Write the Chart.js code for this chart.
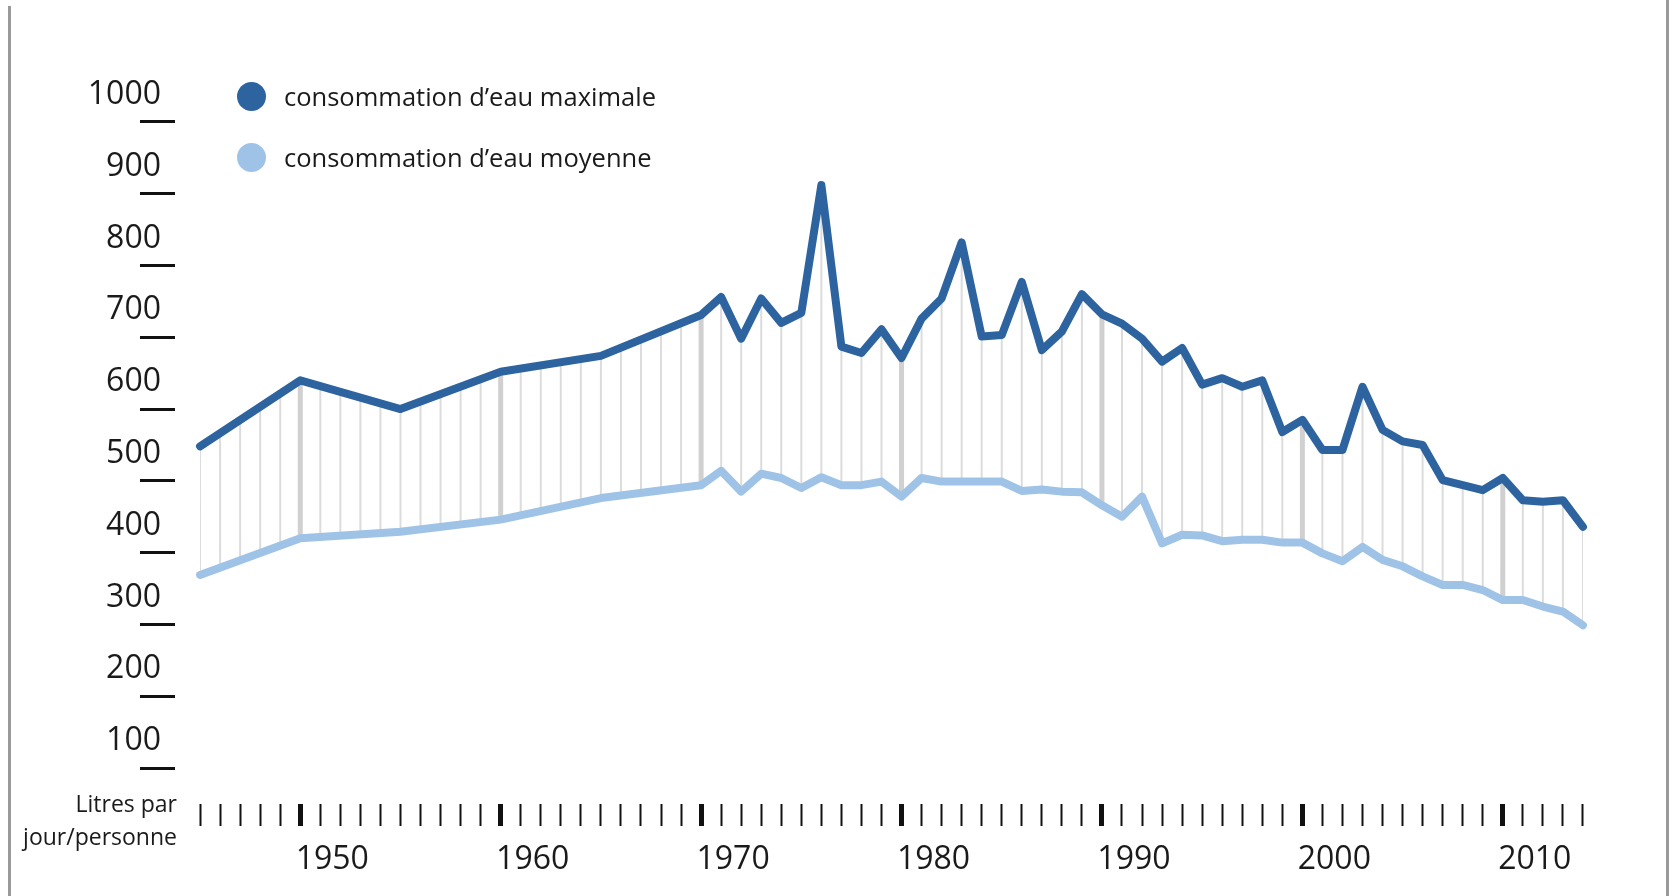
<!DOCTYPE html>
<html lang="fr">
<head>
<meta charset="utf-8">
<title>Consommation d'eau</title>
<script src="https://cdn.jsdelivr.net/npm/chart.js@4/dist/chart.umd.min.js"></script>
<style>
    html, body { margin: 0; padding: 0; background: #fff; }
    #wrap { position: relative; width: 1676px; height: 896px; overflow: hidden; font-family: 'Open Sans', sans-serif; color: #1a1a1a; }
    #chart { position: absolute; left: 0; top: 0; }
    .frame { position: absolute; width: 3px; background: #9a9a9a; }
    #legend { position: absolute; left: 237px; top: 81px; }
    .legend-item { display: flex; align-items: center; height: 30px; margin-bottom: 31px; font-size: 25.5px; white-space: nowrap; }
    .legend-dot { width: 29px; height: 29px; border-radius: 50%; margin-right: 18px; }
    #unit { position: absolute; right: calc(1676px - 177px); top: 787px; text-align: right; font-size: 23px; line-height: 33px; }
</style>
</head>
<body>
<div id="wrap">
    <div class="frame" style="left: 8px; top: 6px; bottom: 0;"></div>
    <div class="frame" style="left: 1666px; top: 0; bottom: 0;"></div>
    <canvas id="chart" width="1676" height="896"></canvas>
    <div id="legend"></div>
    <div id="unit">Litres par<br>jour/personne</div>
</div>
<script>
// years with a value (5-year steps first, then yearly)
const dataYears = [1945, 1950, 1955, 1960, 1965,
    1970, 1971, 1972, 1973, 1974, 1975, 1976, 1977, 1978, 1979,
    1980, 1981, 1982, 1983, 1984, 1985, 1986, 1987, 1988, 1989,
    1990, 1991, 1992, 1993, 1994, 1995, 1996, 1997, 1998, 1999,
    2000, 2001, 2002, 2003, 2004, 2005, 2006, 2007, 2008, 2009,
    2010, 2011, 2012, 2013, 2014];

const maxValues = [548, 640, 600, 652, 674,
    731, 756, 698, 754, 720, 734, 912, 687, 678, 711,
    671, 726, 754, 832, 701, 703, 777, 682, 708, 760,
    732, 719, 698, 666, 685, 634, 643, 631, 640, 568,
    585, 543, 543, 631, 571, 555, 550, 501, 494, 487,
    504, 473, 471, 473, 436];

const avgValues = [369, 420, 429, 446, 476,
    494, 514, 485, 510, 504, 490, 505, 494, 494, 499,
    478, 504, 499, 499, 499, 499, 486, 488, 485, 484,
    466, 450, 478, 413, 425, 424, 416, 418, 418, 414,
    414, 399, 388, 408, 390, 381, 367, 355, 355, 348,
    334, 334, 325, 318, 299];

const seriesLabels = ["consommation d\u2019eau maximale", "consommation d\u2019eau moyenne"];
const seriesColors = ['#2d64a0', '#9fc3e6'];

// one tick per year on the axis, labels every ten years
const tickYears = Array.from({ length: 70 }, (_, i) => 1945 + i);
const yTickValues = [100, 200, 300, 400, 500, 600, 700, 800, 900, 1000];

Chart.defaults.font.family = "'Open Sans', sans-serif";
Chart.defaults.color = '#1a1a1a';

// gray vertical strokes between the two curves, one per year
const hatchPlugin = {
    id: 'hatch',
    beforeDatasetsDraw(chart) {
        const { ctx, chartArea, scales: { x } } = chart;
        const upper = chart.getDatasetMeta(0).data;
        const lower = chart.getDatasetMeta(1).data;
        ctx.save();
        ctx.beginPath();
        upper.forEach((p, i) => i ? ctx.lineTo(p.x, p.y) : ctx.moveTo(p.x, p.y));
        for (let i = lower.length - 1; i >= 0; i--) ctx.lineTo(lower[i].x, lower[i].y);
        ctx.closePath();
        ctx.clip();
        tickYears.forEach(yr => {
            const px = x.getPixelForValue(yr);
            const decade = yr % 10 === 0;
            ctx.beginPath();
            ctx.lineWidth = decade ? 5 : 2;
            ctx.strokeStyle = decade ? '#d0d0d0' : '#dcdcdc';
            ctx.moveTo(px, chartArea.top);
            ctx.lineTo(px, chartArea.bottom);
            ctx.stroke();
        });
        ctx.restore();
    }
};

const chart = new Chart(document.getElementById('chart'), {
    type: 'line',
    data: {
        datasets: [maxValues, avgValues].map((vals, i) => ({
            label: seriesLabels[i],
            data: dataYears.map((yr, j) => ({ x: yr, y: vals[j] })),
            borderColor: seriesColors[i],
            backgroundColor: seriesColors[i],
            borderWidth: 8,
            borderCapStyle: 'round',
            borderJoinStyle: 'round',
            pointRadius: 0,
            tension: 0
        }))
    },
    options: {
        responsive: false,
        animation: false,
        events: [],
        layout: { padding: { top: 50, right: 73, left: 0, bottom: 0 } },
        plugins: { legend: { display: false }, tooltip: { enabled: false } },
        scales: {
            x: {
                type: 'linear',
                min: 1943.75,
                max: 2015,
                afterBuildTicks: s => { s.ticks = tickYears.map(v => ({ value: v })); },
                afterFit: s => { s.height = 92; },
                border: { display: false },
                grid: {
                    drawOnChartArea: false,
                    drawTicks: true,
                    tickLength: 22,
                    tickWidth: c => (c.tick && c.tick.value % 10 === 0) ? 5 : 2,
                    tickColor: '#111'
                },
                ticks: {
                    autoSkip: false,
                    maxRotation: 0,
                    minRotation: 0,
                    labelOffset: 32,
                    padding: 15,
                    font: { size: 32 },
                    callback: v => v % 10 === 0 ? String(v) : ''
                }
            },
            y: {
                min: 50,
                max: 1100,
                afterBuildTicks: s => { s.ticks = yTickValues.map(v => ({ value: v })); },
                afterFit: s => { s.width = 175; },
                border: { display: false },
                grid: {
                    drawOnChartArea: false,
                    drawTicks: true,
                    tickLength: 35,
                    tickWidth: 3,
                    tickColor: '#111'
                },
                ticks: {
                    padding: -21,
                    labelOffset: -27,
                    font: { size: 32 },
                    callback: v => String(v)
                }
            }
        }
    },
    plugins: [hatchPlugin]
});

// legend built from the datasets
const legend = document.getElementById('legend');
chart.data.datasets.forEach(ds => {
    const item = document.createElement('div');
    item.className = 'legend-item';
    item.innerHTML = `<span class="legend-dot" style="background:${ds.borderColor}"></span><span>${ds.label}</span>`;
    legend.appendChild(item);
});
</script>
</body>
</html>
